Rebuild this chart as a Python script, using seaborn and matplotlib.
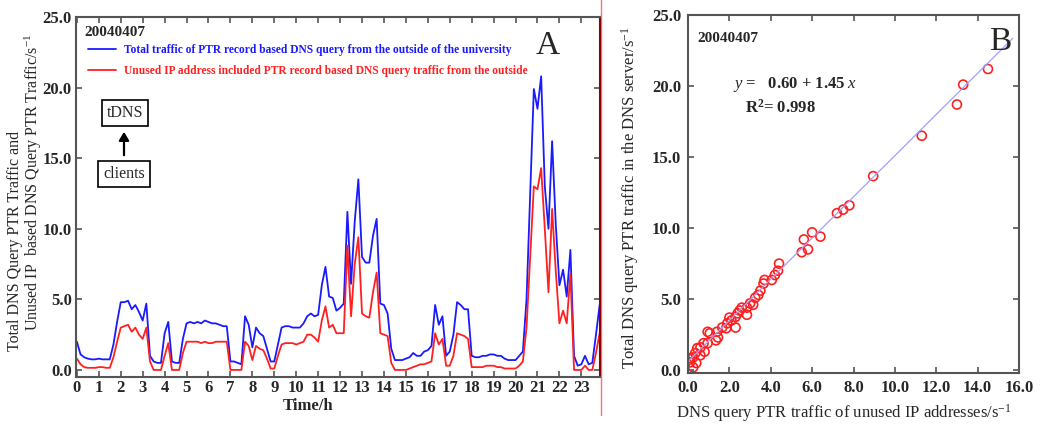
import numpy as np
import pandas as pd
import matplotlib
matplotlib.use("Agg")
import matplotlib.pyplot as plt
from matplotlib.lines import Line2D
import seaborn as sns

# ---------------- data ----------------
# 10-minute samples over one day (hour of day)
hours = np.arange(144) / 6.0

total_traffic = [
    2.0, 1.1, 0.9, 0.8, 0.75, 0.75,
    0.8, 0.75, 0.75, 0.75, 1.8, 3.4,
    4.8, 4.8, 4.9, 4.3, 4.6, 4.1,
    3.5, 4.7, 1.0, 0.6, 0.5, 0.5,
    2.6, 3.4, 0.6, 0.5, 0.5, 2.2,
    3.3, 3.4, 3.3, 3.4, 3.3, 3.5,
    3.4, 3.3, 3.3, 3.2, 3.1, 3.1,
    0.6, 0.6, 0.5, 0.4, 3.8, 3.2,
    1.6, 3.0, 2.6, 2.4, 1.5, 0.6,
    0.6, 1.8, 3.0, 3.1, 3.1, 3.0,
    3.0, 3.0, 3.3, 3.8, 4.0, 3.8,
    3.9, 6.0, 7.3, 5.2, 5.1, 4.2,
    4.4, 4.7, 11.2, 6.1, 10.5, 13.5,
    8.0, 7.6, 7.6, 9.5, 10.7, 4.7,
    4.6, 4.0, 1.5, 0.7, 0.7, 0.7,
    0.8, 0.9, 1.2, 1.0, 1.0, 1.3,
    1.4, 1.7, 4.6, 3.2, 3.8, 1.0,
    1.3, 2.5, 4.8, 4.6, 4.3, 4.3,
    1.0, 0.9, 0.9, 1.0, 1.0, 1.1,
    1.1, 1.0, 1.0, 0.8, 0.7, 0.7,
    0.7, 1.0, 1.3, 5.0, 12.5, 19.9,
    18.5, 20.8, 13.0, 10.0, 16.2, 10.3,
    6.0, 7.1, 5.2, 8.5, 1.0, 0.3,
    0.4, 1.0, 0.4, 0.5, 2.5, 4.6,
]

unused_traffic = [
    0.8, 0.4, 0.2, 0.15, 0.15, 0.15,
    0.2, 0.2, 0.15, 0.15, 0.9, 2.0,
    3.0, 3.1, 3.2, 2.7, 3.0, 2.5,
    2.2, 3.0, 0.6, 0.0, 0.0, 0.0,
    1.0, 1.9, 0.0, 0.0, 0.0, 1.2,
    2.0, 2.0, 2.0, 2.0, 1.9, 2.0,
    1.9, 1.9, 2.0, 2.0, 2.0, 2.0,
    0.0, 0.0, 0.0, 0.0, 2.0, 1.7,
    0.7, 1.7, 1.5, 1.4, 0.8, 0.1,
    0.1, 1.0, 1.8, 1.9, 1.9, 1.9,
    1.8, 1.9, 2.0, 2.5, 2.5, 2.3,
    2.0, 3.5, 4.5, 3.0, 3.2, 2.6,
    2.6, 2.6, 8.8, 3.8, 7.5, 9.4,
    4.0, 3.8, 3.7, 5.5, 6.9, 2.6,
    2.5, 2.4, 0.5, 0.0, 0.0, 0.0,
    0.0, 0.1, 0.2, 0.3, 0.4, 0.4,
    0.5, 0.6, 2.6, 1.8, 2.2, 0.3,
    0.3, 1.0, 2.6, 2.5, 2.4, 2.2,
    0.2, 0.2, 0.2, 0.2, 0.3, 0.3,
    0.3, 0.2, 0.2, 0.1, 0.1, 0.1,
    0.1, 0.3, 0.6, 3.0, 8.0, 13.0,
    12.8, 14.3, 10.0, 5.5, 11.4, 7.0,
    3.3, 4.2, 3.3, 6.8, 0.0, 0.0,
    0.0, 0.3, 0.0, 0.0, 1.2, 2.6,
]

series_labels = [
    "Total traffic of PTR record based DNS query from the outside of the university",
    "Unused IP address included PTR record based DNS query traffic from the outside",
]
series_colors = ["#1a1aff", "#ff2020"]

hour_ticks = list(range(0, 24))
value_ticks = [0, 5, 10, 15, 20, 25]

# scatter: unused-IP traffic (x) vs total traffic (y)
scatter_x = [14.5, 13.3, 13.0, 11.3, 8.95, 7.8, 7.5, 7.2,
             6.0, 6.4, 5.6, 5.5, 5.8, 4.4, 4.35, 4.2, 4.05, 3.7, 3.65,
             3.5, 3.4, 3.25, 3.15, 3.0, 2.85, 2.85, 2.6, 2.5, 2.4, 2.3,
             2.3, 2.1, 2.0, 1.9, 1.85, 1.65, 1.4, 1.45, 1.35, 1.05, 0.95,
             0.95, 0.75, 0.8, 0.6, 0.45, 0.6, 0.35, 0.25, 0.1, 0.4, 0.25, 0.1]
scatter_y = [21.2, 20.1, 18.7, 16.5, 13.66, 11.6, 11.3, 11.05,
             9.7, 9.4, 9.2, 8.3, 8.5, 7.5, 7.0, 6.7, 6.35, 6.35, 6.1,
             5.6, 5.3, 5.1, 4.6, 4.7, 4.4, 3.9, 4.4, 4.2, 4.0, 3.75,
             3.0, 3.5, 3.7, 3.3, 2.95, 3.0, 2.7, 2.3, 2.1, 2.6, 2.7,
             1.9, 1.9, 1.3, 1.6, 1.55, 1.05, 1.2, 0.9, 0.85, 0.5, 0.2, 0.55]

fit_intercept = 0.60
fit_slope = 1.45
fit_x_range = [0.0, 15.7]
r_squared = 0.998
x_ticks_b = [0, 2, 4, 6, 8, 10, 12, 14, 16]

# ---------------- style ----------------
sns.set_style("ticks")
plt.rcParams["font.family"] = ["Liberation Serif", "DejaVu Serif"]
plt.rcParams["mathtext.fontset"] = "custom"
plt.rcParams["mathtext.rm"] = "Liberation Serif"
plt.rcParams["mathtext.it"] = "Liberation Serif:italic"
plt.rcParams["mathtext.bf"] = "Liberation Serif:bold"

W, H = 1050, 432
fig = plt.figure(figsize=(W / 100, H / 100), dpi=100)


def fx(x):
    return x / W


def fy(y):
    return 1 - y / H


spine_col = "#555555"


def style_axes(ax):
    for s in ax.spines.values():
        s.set_visible(True)
        s.set_color(spine_col)
        s.set_linewidth(1.5)
    ax.tick_params(direction="in", length=4, width=1.2, color=spine_col,
                   top=True, right=True, labelsize=12, pad=5)
    for lab in ax.get_xticklabels() + ax.get_yticklabels():
        lab.set_fontweight("bold")


# ---------------- panel A ----------------
axA = fig.add_axes([fx(76), fy(377), fx(600 - 76), (377 - 17) / H])
df = pd.DataFrame({
    "hour": np.concatenate([hours, hours]),
    "value": np.concatenate([total_traffic, unused_traffic]),
    "series": [series_labels[0]] * len(hours) + [series_labels[1]] * len(hours),
})
sns.lineplot(data=df, x="hour", y="value", hue="series",
             palette=dict(zip(series_labels, series_colors)),
             linewidth=1.3, ax=axA, legend=False)
axA.set_xlim(-0.04, 23.85)
axA.set_ylim(-0.5, 25)
axA.set_xticks(hour_ticks)
axA.set_xticklabels([str(h) for h in hour_ticks])
axA.set_yticks(value_ticks)
axA.set_yticklabels([f"{v:.1f}" for v in value_ticks])
axA.set_xlabel("Time/h", fontsize=12, fontweight="bold")
axA.set_ylabel("")
style_axes(axA)
axA.tick_params(axis="x", pad=2)
axA.tick_params(axis="y", pad=3)
axA.xaxis.set_label_coords((308 - 76) / 524, (377 - 398) / 360)
axA.spines["right"].set_color("#8b0000")

handles = [Line2D([], [], color=c, lw=1.3) for c in series_colors]
leg = axA.legend(handles, series_labels, loc="upper left",
                 bbox_to_anchor=((88 - 76) / 524, (377 - 44) / 360),
                 frameon=False, handlelength=2.4, handletextpad=0.7,
                 labelspacing=0.8, borderpad=0, borderaxespad=0,
                 prop={"family": "Liberation Serif", "weight": "bold", "size": 8.3})
for t, c in zip(leg.get_texts(), series_colors):
    t.set_color(c)

fig.text(fx(84), fy(33), "20040407", fontsize=11, fontweight="bold",
         ha="left", va="center")
fig.text(fx(548), fy(46), "A", fontsize=24, ha="center", va="center")

fig.text(fx(125), fy(113), "tDNS", fontsize=11.5, ha="center", va="center",
         bbox=dict(boxstyle="square,pad=0.3", fc="white", ec="black", lw=1.2))
fig.text(fx(124), fy(174), "clients", fontsize=11.5, ha="center", va="center",
         bbox=dict(boxstyle="square,pad=0.3", fc="white", ec="black", lw=1.2))
fig.add_artist(matplotlib.patches.FancyArrowPatch(
    (fx(124), fy(158)), (fx(124), fy(129)), transform=fig.transFigure,
    arrowstyle="-|>,head_length=5,head_width=3", color="black", lw=1.6))

fig.text(fx(15), fy(241), "Total DNS Query PTR Traffic and", rotation=90,
         fontsize=11.5, ha="center", va="center")
fig.text(fx(33), fy(182),
         "Unused IP  based DNS Query PTR Traffic/s$^{\\mathregular{-1}}$",
         rotation=90, fontsize=11.5, ha="center", va="center")

# ---------------- panel B ----------------
axB = fig.add_axes([fx(688), fy(373), fx(1019 - 688), (373 - 15) / H])
fit_x = np.array(fit_x_range)
fit_y = fit_intercept + fit_slope * fit_x
sns.lineplot(x=fit_x, y=fit_y, color="#a0a0ff", linewidth=0.9, ax=axB)
sns.scatterplot(x=scatter_x, y=scatter_y, marker="o", s=42,
                facecolor="none", edgecolor="#ff2020", linewidth=1.2, ax=axB)
axB.set_xlim(0, 16)
axB.set_ylim(-0.2, 25)
axB.set_xticks(x_ticks_b)
axB.set_xticklabels([f"{v:.1f}" for v in x_ticks_b])
axB.set_yticks(value_ticks)
axB.set_yticklabels([f"{v:.1f}" for v in value_ticks])
axB.set_xlabel("DNS query PTR traffic of unused IP addresses/s$^{\\mathregular{-1}}$",
               fontsize=12)
axB.set_ylabel("Total DNS query PTR traffic in the DNS server/s$^{\\mathregular{-1}}$",
               fontsize=12)
style_axes(axB)
axB.xaxis.set_label_coords((844 - 688) / 331, (373 - 402) / 358)
axB.yaxis.set_label_coords((641 - 688) / 331, (373 - 198) / 358)

fig.text(fx(697), fy(38), "20040407", fontsize=11, fontweight="bold",
         ha="left", va="center")
fig.text(fx(1000), fy(42), "B", fontsize=24, ha="center", va="center")
fig.text(fx(733), fy(84),
         f"$\\mathit{{y}}$ =   {fit_intercept:.2f} + {fit_slope:.2f} $\\mathit{{x}}$",
         fontsize=12, fontweight="bold", ha="left", va="center")
fig.text(fx(745), fy(108), f"R$^{{\\mathbf{{2}}}}$= {r_squared:.3f}",
         fontsize=12, fontweight="bold", ha="left", va="center")

# vertical separator line visible in the reference
fig.add_artist(Line2D([fx(600.5), fx(600.5)], [fy(415), 1], transform=fig.transFigure,
                      color="#ff7070", lw=1.0, zorder=0))

fig.savefig("out.png", dpi=100)
